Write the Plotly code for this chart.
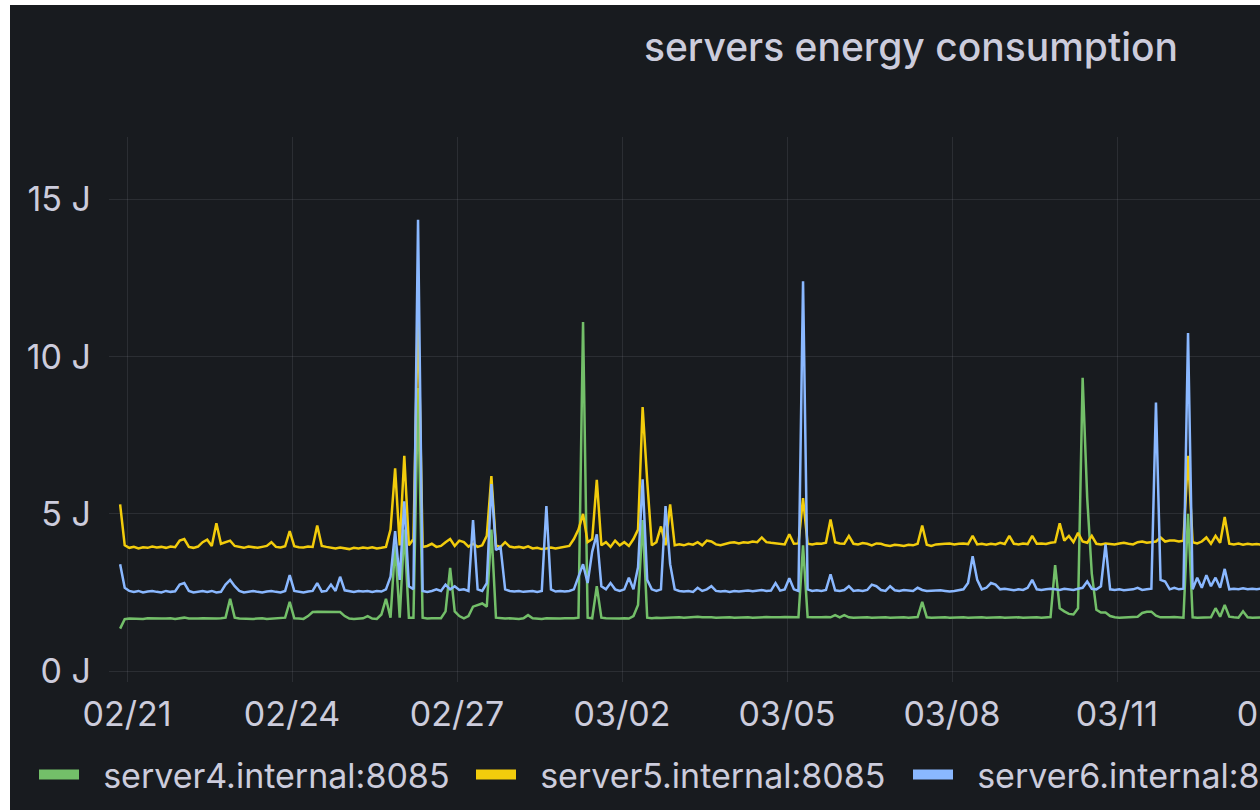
import pandas as pd
import plotly.graph_objects as go

# sampling: 2-hour steps starting 2023-02-20 21:00
start_time = "2023-02-20 21:00"
step = "2h"

server4 = [
    1.35, 1.65, 1.67, 1.66, 1.67, 1.66, 1.68, 1.67, 1.66, 1.67,
    1.67, 1.68, 1.66, 1.67, 1.70, 1.67, 1.66, 1.67, 1.68, 1.67,
    1.66, 1.67, 1.68, 1.70, 2.30, 1.70, 1.67, 1.66, 1.67, 1.66,
    1.67, 1.68, 1.66, 1.67, 1.68, 1.67, 1.70, 2.20, 1.68, 1.67,
    1.66, 1.75, 1.88, 1.89, 1.89, 1.90, 1.89, 1.89, 1.88, 1.75,
    1.67, 1.66, 1.67, 1.68, 1.75, 1.67, 1.66, 1.80, 2.30, 1.70,
    4.00, 1.70, 4.50, 1.70, 1.70, 9.00, 1.70, 1.67, 1.68, 1.67,
    1.68, 1.90, 3.28, 1.90, 1.75, 1.68, 1.75, 2.05, 2.10, 2.15,
    2.05, 4.50, 1.70, 1.68, 1.67, 1.68, 1.67, 1.66, 1.68, 1.78,
    1.68, 1.67, 1.66, 1.68, 1.67, 1.66, 1.67, 1.68, 1.67, 1.68,
    1.70, 11.1, 1.70, 1.68, 2.70, 1.70, 1.68, 1.67, 1.68, 1.67,
    1.68, 1.67, 1.75, 2.10, 4.80, 1.70, 1.68, 1.70, 1.69, 1.70,
    1.71, 1.70, 1.71, 1.70, 1.71, 1.72, 1.73, 1.71, 1.72, 1.71,
    1.70, 1.71, 1.72, 1.71, 1.70, 1.71, 1.72, 1.71, 1.70, 1.71,
    1.71, 1.72, 1.71, 1.70, 1.71, 1.72, 1.71, 1.70, 1.71, 4.00,
    1.72, 1.71, 1.70, 1.71, 1.72, 1.71, 1.78, 1.71, 1.78, 1.71,
    1.70, 1.71, 1.72, 1.71, 1.70, 1.71, 1.72, 1.71, 1.70, 1.71,
    1.72, 1.71, 1.70, 1.71, 1.72, 2.20, 1.71, 1.70, 1.71, 1.72,
    1.71, 1.70, 1.71, 1.72, 1.71, 1.70, 1.71, 1.72, 1.71, 1.70,
    1.71, 1.72, 1.71, 1.70, 1.71, 1.72, 1.71, 1.70, 1.71, 1.72,
    1.71, 1.70, 1.71, 1.72, 3.37, 2.00, 1.90, 1.82, 1.80, 2.00,
    9.33, 5.50, 3.10, 1.95, 1.86, 1.86, 1.75, 1.71, 1.70, 1.71,
    1.72, 1.71, 1.73, 1.85, 1.89, 1.89, 1.76, 1.71, 1.70, 1.71,
    1.72, 1.71, 1.70, 5.00, 1.71, 1.70, 1.71, 1.72, 1.71, 2.00,
    1.73, 2.10, 1.73, 1.71, 1.70, 1.90, 1.71, 1.70, 1.71, 1.70, 1.71,
]

server5 = [
    5.30, 4.00, 3.92, 3.95, 3.90, 3.94, 3.92, 3.96, 3.93, 3.95,
    3.92, 3.96, 3.94, 4.15, 4.20, 3.95, 3.92, 3.96, 4.10, 4.18,
    3.98, 4.70, 4.05, 4.10, 4.15, 3.98, 3.95, 3.92, 3.96, 3.94,
    3.92, 3.95, 3.98, 4.10, 3.95, 3.93, 3.97, 4.45, 3.97, 3.94,
    3.93, 3.96, 3.95, 4.63, 3.98, 3.95, 3.92, 3.90, 3.93, 3.90,
    3.88, 3.92, 3.90, 3.93, 3.91, 3.94, 3.90, 3.92, 3.95, 4.50,
    6.45, 4.00, 6.85, 4.00, 4.20, 11.6, 3.95, 3.98, 4.05, 3.95,
    3.98, 4.10, 4.20, 3.98, 4.15, 4.10, 3.96, 4.05, 3.95, 4.00,
    4.30, 6.20, 4.00, 3.95, 4.10, 3.96, 3.93, 3.95, 3.92, 3.97,
    3.90, 3.92, 3.88, 3.90, 3.93, 3.90, 3.92, 3.94, 3.98, 4.20,
    4.50, 5.00, 4.10, 4.20, 6.08, 4.00, 4.10, 3.95, 4.15, 4.00,
    4.10, 3.98, 4.20, 4.50, 8.40, 6.05, 4.00, 4.10, 4.60, 4.00,
    5.30, 4.00, 4.03, 4.00, 4.05, 4.02, 4.10, 4.00, 4.15, 4.12,
    4.03, 4.00, 4.05, 4.08, 4.10, 4.06, 4.10, 4.08, 4.12, 4.10,
    4.25, 4.10, 4.08, 4.06, 4.05, 4.03, 4.35, 4.05, 4.06, 5.50,
    4.05, 4.03, 4.06, 4.05, 4.08, 4.82, 4.10, 4.06, 4.05, 4.30,
    4.05, 4.03, 4.07, 4.05, 4.00, 4.06, 4.05, 4.00, 3.98, 4.02,
    4.00, 3.98, 4.02, 4.00, 4.05, 4.63, 4.02, 3.98, 4.03, 4.05,
    4.05, 4.06, 4.03, 4.05, 4.06, 4.04, 4.30, 4.03, 4.05, 4.02,
    4.05, 4.03, 4.08, 4.04, 4.30, 4.05, 4.03, 4.06, 4.04, 4.30,
    4.05, 4.06, 4.04, 4.08, 4.10, 4.70, 4.15, 4.30, 4.10, 4.40,
    4.12, 4.08, 4.30, 4.05, 4.03, 4.06, 4.05, 4.03, 4.06, 4.08,
    4.05, 4.03, 4.10, 4.12, 4.08, 4.10, 4.12, 4.25, 4.12, 4.15,
    4.15, 4.12, 4.15, 6.85, 4.10, 4.06, 4.12, 4.25, 4.05, 4.30,
    4.08, 4.90, 4.05, 4.03, 4.06, 4.02, 4.05, 4.03, 4.04, 4.02, 4.05,
]

server6 = [
    3.40, 2.65, 2.55, 2.52, 2.55, 2.50, 2.53, 2.55, 2.52, 2.50,
    2.55, 2.52, 2.54, 2.75, 2.80, 2.55, 2.50, 2.53, 2.55, 2.52,
    2.55, 2.50, 2.52, 2.75, 2.90, 2.70, 2.55, 2.50, 2.52, 2.55,
    2.52, 2.50, 2.53, 2.55, 2.52, 2.50, 2.55, 3.05, 2.55, 2.52,
    2.50, 2.53, 2.55, 2.80, 2.53, 2.55, 2.75, 2.55, 3.00, 2.57,
    2.55, 2.52, 2.55, 2.53, 2.55, 2.52, 2.55, 2.53, 2.60, 3.00,
    4.45, 2.90, 5.40, 2.70, 2.60, 14.35, 2.55, 2.52, 2.55, 2.60,
    2.55, 2.75, 2.60, 2.70, 2.58, 2.60, 2.55, 4.80, 2.60, 2.55,
    2.80, 5.95, 3.85, 3.95, 2.60, 2.55, 2.53, 2.55, 2.52, 2.54,
    2.55, 2.52, 2.55, 5.25, 2.60, 2.53, 2.55, 2.53, 2.55, 2.60,
    2.97, 3.40, 2.80, 3.80, 4.35, 2.70, 2.60, 2.80, 2.60, 2.55,
    2.60, 2.97, 2.60, 3.30, 6.10, 2.90, 2.60, 2.55, 2.60, 5.25,
    3.40, 2.60, 2.55, 2.53, 2.55, 2.52, 2.65, 2.55, 2.60, 2.70,
    2.55, 2.53, 2.55, 2.52, 2.55, 2.53, 2.55, 2.56, 2.54, 2.55,
    2.58, 2.55, 2.56, 2.80, 2.56, 2.60, 2.95, 2.60, 2.55, 12.4,
    2.60, 2.55, 2.57, 2.55, 2.58, 3.08, 2.57, 2.55, 2.58, 2.70,
    2.55, 2.57, 2.55, 2.58, 2.75, 2.70, 2.58, 2.55, 2.70, 2.57,
    2.55, 2.58, 2.56, 2.55, 2.65, 2.58, 2.55, 2.56, 2.55, 2.57,
    2.55, 2.53, 2.55, 2.58, 2.60, 2.80, 3.65, 2.90, 2.60, 2.65,
    2.80, 2.75, 2.60, 2.62, 2.60, 2.57, 2.60, 2.58, 2.65, 2.90,
    2.60, 2.58, 2.60, 2.62, 2.60, 2.58, 2.62, 2.60, 2.58, 2.62,
    2.65, 2.85, 2.62, 2.60, 2.70, 4.03, 2.60, 2.58, 2.60, 2.57,
    2.58, 2.60, 2.65, 2.58, 2.60, 2.62, 8.54, 2.90, 2.85, 2.60,
    2.65, 2.60, 2.62, 10.75, 2.60, 2.97, 2.65, 3.05, 2.70, 2.97,
    2.65, 3.25, 2.60, 2.62, 2.60, 2.63, 2.60, 2.62, 2.60, 2.63, 2.60,
]

series_names = ["server4.internal:8085", "server5.internal:8085", "server6.internal:8085"]
series_colors = ["#73bf69", "#f2cc0c", "#8ab8ff"]
tick_start = "2023-02-21"
y_tick_values = [0, 5, 10, 15]
y_tick_labels = ["0 J", "5 J", "10 J", "15 J"]

times = pd.date_range(start_time, periods=len(server4), freq=step)

W, H = 1802, 805
ML, MR, MT, MB = 99, 20, 132, 123
plot_w = W - ML - MR
px_per_day = 55.0
x0 = pd.Timestamp(tick_start) - pd.Timedelta(days=18 / px_per_day)
x1 = x0 + pd.Timedelta(days=plot_w / px_per_day)

bg = "#181b1f"
grid = "rgba(204,204,220,0.11)"
txt = "#ccccdc"
font_family = "Inter, Roboto, sans-serif"

fig = go.Figure()
for vals, name, col in zip([server4, server5, server6], series_names, series_colors):
    fig.add_trace(go.Scatter(x=times, y=vals, mode="lines", name=name,
                             line=dict(color=col, width=2.5), showlegend=False))
# legend entries (thick swatches)
for name, col in zip(series_names, series_colors):
    fig.add_trace(go.Scatter(x=[None], y=[None], mode="lines", name="\u00a0\u00a0" + name,
                             line=dict(color=col, width=10), showlegend=True))

fig.update_layout(
    width=W, height=H,
    margin=dict(l=ML, r=MR, t=MT, b=MB, pad=0),
    paper_bgcolor=bg, plot_bgcolor=bg,
    font=dict(family=font_family, color=txt, size=34),
    title=dict(text="servers energy consumption", x=0.5, xref="container", xanchor="center",
               y=1 - 42 / H, yref="container", yanchor="middle",
               font=dict(family=font_family, size=39, color=txt, weight=500)),
    xaxis=dict(type="date", range=[x0, x1], tick0=tick_start, dtick=3 * 86400000,
               tickformat="%m/%d", showgrid=True, gridcolor=grid, gridwidth=1,
               zeroline=False, showline=False, ticks="", ticklabelstandoff=9,
               tickfont=dict(size=34, color=txt)),
    yaxis=dict(range=[-11 / 31.733, 539 / 31.733], tickmode="array",
               tickvals=y_tick_values, ticktext=y_tick_labels,
               showgrid=True, gridcolor=grid, gridwidth=1, zeroline=False, showline=False,
               ticks="", ticklabelstandoff=17, tickfont=dict(size=34, color=txt)),
    legend=dict(orientation="h", xref="container", yref="container", x=24 / W, y=35 / H,
                xanchor="left", yanchor="middle", itemwidth=40, entrywidth=382,
                entrywidthmode="pixels", bgcolor="rgba(0,0,0,0)",
                font=dict(family=font_family, size=34, color=txt)),
    hovermode=False,
)

post = ("document.body.style.margin='5px 0 0 10px';"
        "document.body.style.overflow='hidden';"
        "document.documentElement.style.overflow='hidden';"
        "document.body.style.background='#ffffff';")
fig.write_html("out.html", post_script=post)
